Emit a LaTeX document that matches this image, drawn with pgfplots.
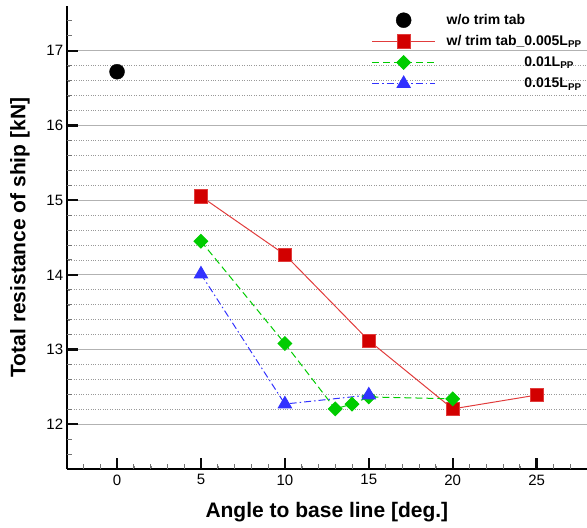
\documentclass[border=0pt]{standalone}
\usepackage{pgfplots}
\pgfplotsset{compat=1.18}
\usepackage{fontspec}
\setmainfont{Liberation Sans}
\definecolor{cred}{RGB}{210,0,0}
\definecolor{credl}{RGB}{225,60,60}
\definecolor{cgreen}{RGB}{0,204,0}
\definecolor{cblue}{RGB}{50,50,255}
\definecolor{tickblack}{RGB}{10,10,10}
\pgfplotsset{onemark/.style={legend image code/.code={\draw[##1] plot coordinates {(31.5pt,0pt)};}}}
\begin{document}
\begin{tikzpicture}
\begin{axis}[
  scale only axis, width=520.3pt, height=463pt,
  xmin=-3, xmax=28, ymin=11.4, ymax=17.6,
  clip=false,
  axis x line*=bottom, axis y line*=left,
  axis line style={line width=2.2pt},
  xtick={0,5,...,25}, ytick={12,...,17},
  minor x tick num=4, minor y tick num=4,
  ymajorgrids, yminorgrids,
  major grid style={solid,line width=1pt,black!30},
  minor grid style={dotted,line width=0.7pt,black!40},
  /pgf/number format/assume math mode=true,
  ticklabel style={font=\fontsize{15}{18}\selectfont},
  xticklabel style={yshift=-2pt},
  xlabel={Angle to base line [deg.]},
  ylabel={Total resistance of ship [kN]},
  xlabel style={yshift=-10pt},
  ylabel style={yshift=10pt},
  label style={font=\bfseries\fontsize{21}{25}\selectfont},
  legend style={draw=none, fill=none, at={(axis description cs:0.58,0.991)}, anchor=north west,
    font=\bfseries\fontsize{14}{16}\selectfont, row sep=5.5pt,
    /tikz/every odd column/.append style={column sep=9pt}},
  legend cell align=left,
  legend image code/.code={\draw[mark repeat=2,mark phase=2,#1] plot coordinates {(0pt,0pt) (31.5pt,0pt) (63pt,0pt)};},
]
\pgfplotsinvokeforeach{-2,-1,1,2,3,4,6,7,8,9,11,12,13,14,16,17,18,19,21,22,23,24,26,27}{
  \draw[line width=0.9pt,black!55] (axis cs:#1,11.4) -- ++(0pt,5.5pt);}
\pgfplotsinvokeforeach{11.6,11.8,12.2,12.4,12.6,12.8,13.2,13.4,13.6,13.8,14.2,14.4,14.6,14.8,15.2,15.4,15.6,15.8,16.2,16.4,16.6,16.8,17.2,17.4}{
  \draw[line width=0.9pt,black!55] (axis cs:-3,#1) -- ++(5.5pt,0pt);}
\addplot[only marks, mark=*, mark size=7.5pt, black, onemark]
  coordinates {(0,16.72)};
\addlegendentry{w/o trim tab}
\addplot[credl, line width=1pt, mark=square*, mark size=6.6pt,
  mark options={solid, fill=cred, draw=credl, line width=0.8pt}]
  coordinates {(5,15.05) (10,14.27) (15,13.12) (20,12.205) (25,12.39)};
\addlegendentry{w/ trim tab\_0.005L\textsubscript{PP}}
\addplot[cgreen, line width=1pt, dash pattern=on 7pt off 4pt, mark=square*, mark size=4.8pt,
  mark options={solid, fill=cgreen, draw=cgreen, rotate=45}]
  coordinates {(5,14.45) (10,13.08) (13,12.205) (14,12.27) (15,12.365) (20,12.34)};
\addlegendentry{\phantom{w/ trim tab\_}0.01L\textsubscript{PP}}
\addplot[cblue, line width=1pt, dash pattern=on 7pt off 3pt on 1.5pt off 3pt, mark=triangle*, mark size=7.5pt,
  mark options={solid, fill=cblue, draw=cblue}]
  coordinates {(5,14.01) (10,12.27) (15,12.39)};
\addlegendentry{\phantom{w/ trim tab\_}0.015L\textsubscript{PP}}
\pgfplotsinvokeforeach{0,5,10,15,20,25}{
  \draw[line width=2.4pt,tickblack] (axis cs:#1,11.4) -- ++(0pt,11pt);}
\pgfplotsinvokeforeach{12,13,14,15,16,17}{
  \draw[line width=2.4pt,tickblack] (axis cs:-3,#1) -- ++(11pt,0pt);}
\end{axis}
\pgfresetboundingbox
\path ([xshift=-66.7pt,yshift=-59pt]current axis.south west) rectangle ++(587pt,528pt);
\end{tikzpicture}
\end{document}
